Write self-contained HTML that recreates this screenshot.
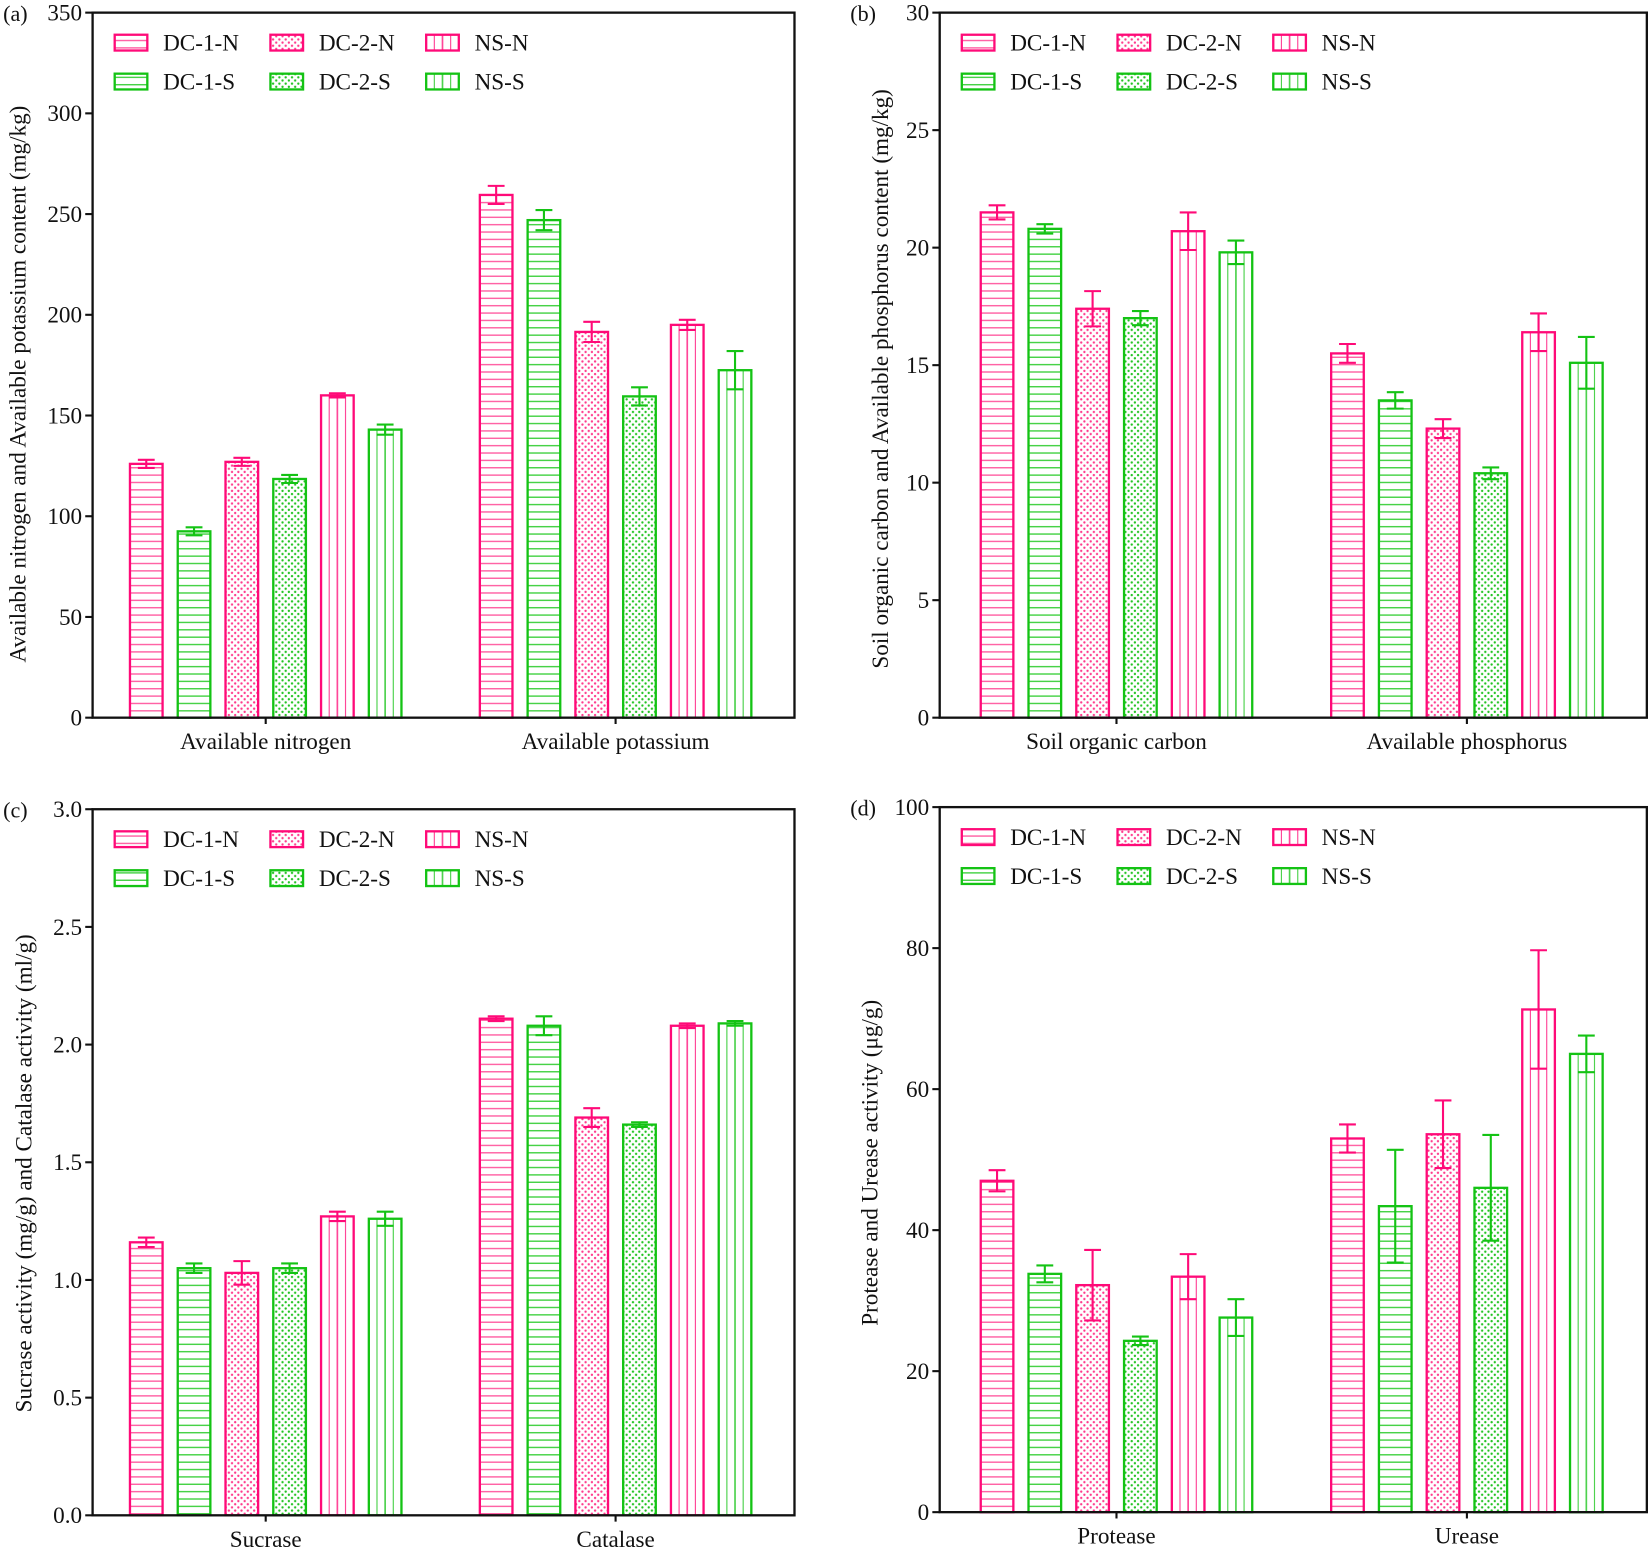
<!DOCTYPE html>
<html><head><meta charset="utf-8"><style>
html,body{margin:0;padding:0;background:#fff}
svg{display:block}
text{font-family:"Liberation Serif",serif;fill:#111}
</style></head><body>
<svg id="s" width="1650" height="1549" viewBox="0 0 1568 1472" xmlns="http://www.w3.org/2000/svg">
<defs>
<pattern id="hP" width="8" height="7" patternUnits="userSpaceOnUse"><line x1="0" y1="3.5" x2="8" y2="3.5" stroke="#ff5aa0" stroke-width="1.3"/></pattern>
<pattern id="hG" width="8" height="7" patternUnits="userSpaceOnUse"><line x1="0" y1="3.5" x2="8" y2="3.5" stroke="#3cd03c" stroke-width="1.3"/></pattern>
<pattern id="dP" width="6" height="6" patternUnits="userSpaceOnUse"><circle cx="1.5" cy="1.5" r="1.1" fill="#ff3a8c"/><circle cx="4.5" cy="4.5" r="1.1" fill="#ff3a8c"/></pattern>
<pattern id="dG" width="6" height="6" patternUnits="userSpaceOnUse"><circle cx="1.5" cy="1.5" r="1.1" fill="#22c322"/><circle cx="4.5" cy="4.5" r="1.1" fill="#22c322"/></pattern>
</defs>
<g id="g"></g>
</svg>
<script>
var P="#ff0a78",G="#14c314";
var out="";
function vpat(x,w,col){var s="";for(var i=1;i<4;i++){var xx=x+w*i/4;s+='<line x1="'+xx+'" x2="'+xx+'" y1="Y1" y2="Y2" stroke="'+col+'" stroke-width="'+(i==2?1.6:1.1)+'" opacity="0.75"/>';}return s;}
function bar(x,w,yt,yb,k){
 var col=k%2==0?P:G, t=Math.floor(k/2);
 var fill=t==0?(k%2==0?"url(#hP)":"url(#hG)"):t==1?(k%2==0?"url(#dP)":"url(#dG)"):"none";
 var s='<rect x="'+x+'" y="'+yt+'" width="'+w+'" height="'+(yb-yt)+'" fill="'+fill+'" stroke="'+col+'" stroke-width="2.2"/>';
 if(t==2){s+=vpat(x,w,col).replace(/Y1/g,yt).replace(/Y2/g,yb);}
 return s;
}
function panel(o){
 var x0=o.x0,x1=o.x1,yt=o.yt,yb=o.yb;
 function Y(v){return yb-(v-0)/(o.max)*(yb-yt);}
 for(var g=0;g<2;g++){
  for(var k=0;k<6;k++){
   var c=o.cx[g]+(k-2.5)*45.4, v=o.d[g][k][0], e=o.d[g][k][1], col=k%2==0?P:G;
   out+=bar(c-15.5,31,Y(v),yb,k);
   out+='<line x1="'+c+'" x2="'+c+'" y1="'+Y(v+e)+'" y2="'+Y(v-e)+'" stroke="'+col+'" stroke-width="2"/>';
   out+='<line x1="'+(c-8)+'" x2="'+(c+8)+'" y1="'+Y(v+e)+'" y2="'+Y(v+e)+'" stroke="'+col+'" stroke-width="2"/>';
   out+='<line x1="'+(c-8)+'" x2="'+(c+8)+'" y1="'+Y(v-e)+'" y2="'+Y(v-e)+'" stroke="'+col+'" stroke-width="2"/>';
  }
  out+='<line x1="'+o.cx[g]+'" x2="'+o.cx[g]+'" y1="'+yb+'" y2="'+(yb+6)+'" stroke="#111" stroke-width="2"/>';
  out+='<text x="'+o.cx[g]+'" y="'+(yb+30)+'" font-size="22" text-anchor="middle">'+o.cat[g]+'</text>';
 }
 out+='<rect x="'+x0+'" y="'+yt+'" width="'+(x1-x0)+'" height="'+(yb-yt)+'" fill="none" stroke="#111" stroke-width="2.2"/>';
 for(var i=0;i<o.ticks.length;i++){var v=o.ticks[i],y=Y(v);
  out+='<line x1="'+(x0-7)+'" x2="'+x0+'" y1="'+y+'" y2="'+y+'" stroke="#111" stroke-width="2"/>';
  out+='<text x="'+(x0-10)+'" y="'+(y+7.5)+'" font-size="22" text-anchor="end">'+o.lab[i]+'</text>';}
 out+='<text x="'+(x0-85)+'" y="'+(yt+8)+'" font-size="21">'+o.pl+'</text>';
 out+='<text transform="translate('+o.tx+','+o.ty+') rotate(-90)" font-size="22" text-anchor="middle">'+o.title+'</text>';
 var names=[["DC-1-N","DC-2-N","NS-N"],["DC-1-S","DC-2-S","NS-S"]];
 for(var r=0;r<2;r++)for(var c=0;c<3;c++){
  var k=c*2+r, bx=x0+21+c*148, by=yt+21+r*37;
  out+=bar(bx,31,by,by+15,k);
  out+='<text x="'+(bx+46)+'" y="'+(by+15)+'" font-size="22">'+names[r][c]+'</text>';}
}
var ticks5=function(m,s,f){var a=[],l=[];for(var v=0;v<=m+1e-9;v+=s){a.push(v);l.push(f?v.toFixed(f):String(Math.round(v)));}return [a,l];};
var t;
t=ticks5(350,50);panel({x0:88,x1:755,yt:12,yb:682,max:350,cx:[252.5,585],ticks:t[0],lab:t[1],pl:"(a)",tx:24,ty:365,
 title:"Available nitrogen and Available potassium content (mg/kg)",cat:["Available nitrogen","Available potassium"],
 d:[[[126,2],[92.5,2],[127,2],[118.5,2],[160,1],[143,2.5]],[[259.5,4.5],[247,5],[191.5,5],[159.5,4.5],[195,2.5],[172.5,9.5]]]});
t=ticks5(30,5);panel({x0:893,x1:1565,yt:12,yb:682,max:30,cx:[1061,1394],ticks:t[0],lab:t[1],pl:"(b)",tx:844,ty:360,
 title:"Soil organic carbon and Available phosphorus content (mg/kg)",cat:["Soil organic carbon","Available phosphorus"],
 d:[[[21.5,0.3],[20.8,0.2],[17.4,0.75],[17.0,0.3],[20.7,0.8],[19.8,0.5]],[[15.5,0.4],[13.5,0.35],[12.3,0.4],[10.4,0.25],[16.4,0.8],[15.1,1.1]]]});
t=ticks5(3,0.5,1);panel({x0:88,x1:755,yt:769,yb:1440,max:3,cx:[252.5,585],ticks:t[0],lab:t[1],pl:"(c)",tx:30,ty:1115,
 title:"Sucrase activity (mg/g) and Catalase activity (ml/g)",cat:["Sucrase","Catalase"],
 d:[[[1.16,0.02],[1.05,0.02],[1.03,0.05],[1.05,0.02],[1.27,0.02],[1.26,0.03]],[[2.11,0.01],[2.08,0.04],[1.69,0.04],[1.66,0.01],[2.08,0.01],[2.09,0.01]]]});
t=ticks5(100,20);panel({x0:893,x1:1565,yt:767,yb:1437,max:100,cx:[1061,1394],ticks:t[0],lab:t[1],pl:"(d)",tx:834,ty:1105,
 title:"Protease and Urease activity (μg/g)",cat:["Protease","Urease"],
 d:[[[47,1.5],[33.8,1.2],[32.2,5],[24.3,0.6],[33.4,3.2],[27.6,2.6]],[[53,2],[43.4,8],[53.6,4.8],[46,7.5],[71.3,8.4],[65,2.6]]]});
document.getElementById("g").innerHTML=out;
</script>
</body></html>
